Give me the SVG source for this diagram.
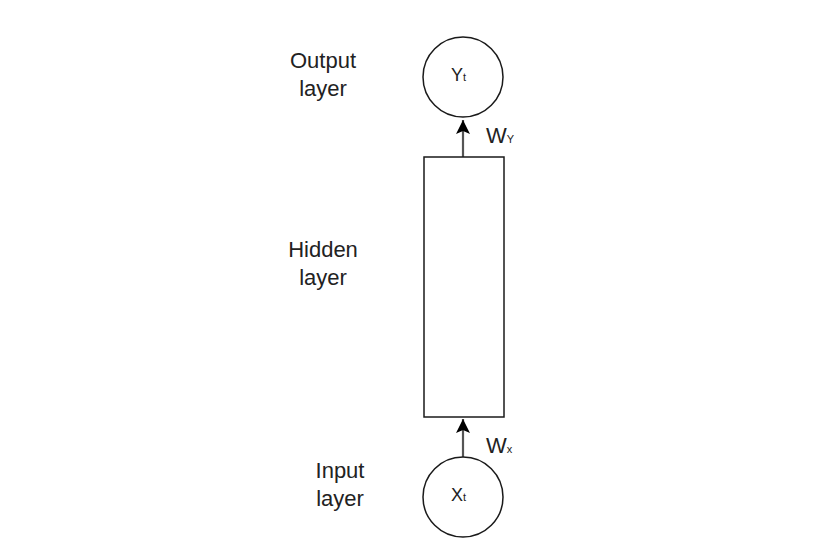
<svg xmlns="http://www.w3.org/2000/svg" width="820" height="556" viewBox="0 0 820 556">
<style>
.shape{fill:#fff;stroke:#1a1a1a;stroke-width:1.5}
.lbl{font-family:"Liberation Sans",Arial,sans-serif;font-size:22px;fill:#222;text-anchor:middle}
.nd{font-family:"Liberation Sans",Arial,sans-serif;font-size:18px;fill:#222}
.w{font-family:"Liberation Sans",Arial,sans-serif;font-size:22px;fill:#222}
.sub{font-size:11px}
.conn{stroke:#555;stroke-width:2.2;fill:none}
</style>
<defs>
<marker id="ah" markerUnits="userSpaceOnUse" markerWidth="14" markerHeight="16" refX="7" refY="0" orient="0" overflow="visible">
<path d="M0,14 L7,0 L14,14 L7,11 Z" fill="#000"/>
</marker>
</defs>
<rect width="820" height="556" fill="#fff"/>
<g id="connectors">
<line class="conn" x1="463" y1="157" x2="463" y2="120" marker-end="url(#ah)"/>
<line class="conn" x1="463" y1="457" x2="463" y2="419" marker-end="url(#ah)"/>
</g>
<g id="output-node">
<circle class="shape" cx="463" cy="77" r="40"/>
<text class="nd" x="451" y="81">Y<tspan class="sub">t</tspan></text>
</g>
<g id="hidden-node">
<rect class="shape" x="424" y="157" width="80" height="260"/>
</g>
<g id="input-node">
<circle class="shape" cx="463" cy="497" r="40"/>
<text class="nd" x="451" y="501">X<tspan class="sub">t</tspan></text>
</g>
<g id="labels">
<text class="lbl" x="323" y="68">Output</text>
<text class="lbl" x="323" y="96">layer</text>
<text class="lbl" x="323" y="257">Hidden</text>
<text class="lbl" x="323" y="285">layer</text>
<text class="lbl" x="340" y="478">Input</text>
<text class="lbl" x="340" y="506">layer</text>
<text class="w" x="486" y="143">W<tspan class="sub">Y</tspan></text>
<text class="w" x="486" y="453">W<tspan class="sub">x</tspan></text>
</g>
</svg>
